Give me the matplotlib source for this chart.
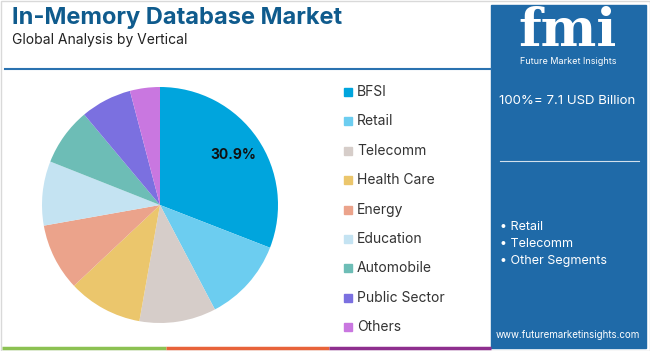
import matplotlib.pyplot as plt
from matplotlib.patches import Rectangle

plt.rcParams['font.family'] = ['Inter', 'DejaVu Sans']

# data
verticals = ['BFSI', 'Retail', 'Telecomm', 'Health Care', 'Energy',
             'Education', 'Automobile', 'Public Sector', 'Others']
shares = [30.9, 11.4, 10.5, 10.2, 9.2, 8.8, 7.9, 7.0, 4.1]
colours = ['#00a5dd', '#6ccdf0', '#d6cdc9', '#ebc66c', '#eba38b',
           '#c4e3f2', '#6dbdb6', '#7b70e0', '#c977e0']
side_items = ['Retail', 'Telecomm', 'Other Segments']
total_text = '100%= 7.1 USD Billion'

W, H = 650, 351
fig = plt.figure(figsize=(W / 100, H / 100), dpi=100)
bg = fig.add_axes([0, 0, 1, 1])
bg.set_xlim(0, W)
bg.set_ylim(H, 0)
bg.axis('off')

# outer frame
bg.add_patch(Rectangle((0.5, 0.5), W - 1, H - 1, fill=False, ec='#d9d9d9', lw=1))

# title block
bg.text(12, 18, 'In-Memory Database Market', fontsize=17, fontweight='bold',
        color='#0f5b8d', va='center', ha='left')
bg.text(12, 40, 'Global Analysis by Vertical', fontsize=10, color='#222222',
        va='center', ha='left')
bg.plot([5, 491], [69, 69], color='#2a72b0', lw=1.5)

# bottom stripes
bg.plot([2, 166], [348, 348], color='#8cc152', lw=2.5, solid_capstyle='butt')
bg.plot([166, 329], [348, 348], color='#e8633a', lw=2.5, solid_capstyle='butt')
bg.plot([329, 491], [348, 348], color='#8e2f8e', lw=2.5, solid_capstyle='butt')

# right panel
bg.add_patch(Rectangle((491, 5), 155, 343, color='#1f6aa8', zorder=1))
bg.text(568, 31, 'fmi', fontsize=38, fontweight='bold', color='white',
        ha='center', va='center', family='DejaVu Serif', zorder=2)
bg.text(568, 61, 'Future Market Insights', fontsize=6.5, color='white',
        ha='center', va='center', zorder=2)
bg.text(567, 101, total_text, fontsize=9.5, color='white',
        ha='center', va='center', zorder=2)
bg.plot([500, 639], [161, 161], color='white', lw=0.8, alpha=0.8, zorder=2)
for i, item in enumerate(side_items):
    bg.text(500, 227 + i * 17, '\u2022 ' + item, fontsize=9, color='white',
            ha='left', va='center', zorder=2)
bg.text(568, 335, 'www.futuremarketinsights.com', fontsize=7, color='white',
        ha='center', va='center', zorder=2)

# legend
for i, (name, col) in enumerate(zip(verticals, colours)):
    y = 92 + i * 29.4
    bg.add_patch(Rectangle((344, y - 4), 8, 8, color=col))
    bg.text(357, y, name, fontsize=10, color='#333333', ha='left', va='center')

# pie
cx, cy, r = 160, 205, 118
ax = fig.add_axes([(cx - r) / W, (H - cy - r) / H, 2 * r / W, 2 * r / H])
wedges, texts, autotexts = ax.pie(
    shares, colors=colours, startangle=90, counterclock=False,
    autopct=lambda p: f'{p:.1f}%' if p > 30 else '', pctdistance=0.75,
    wedgeprops=dict(linewidth=0), textprops=dict(fontsize=10, fontweight='bold',
                                                 color='#111111'))
ax.set_xlim(-1, 1)
ax.set_ylim(-1, 1)
ax.set_aspect('equal')
ax.axis('off')

fig.savefig('out.png', dpi=100)
